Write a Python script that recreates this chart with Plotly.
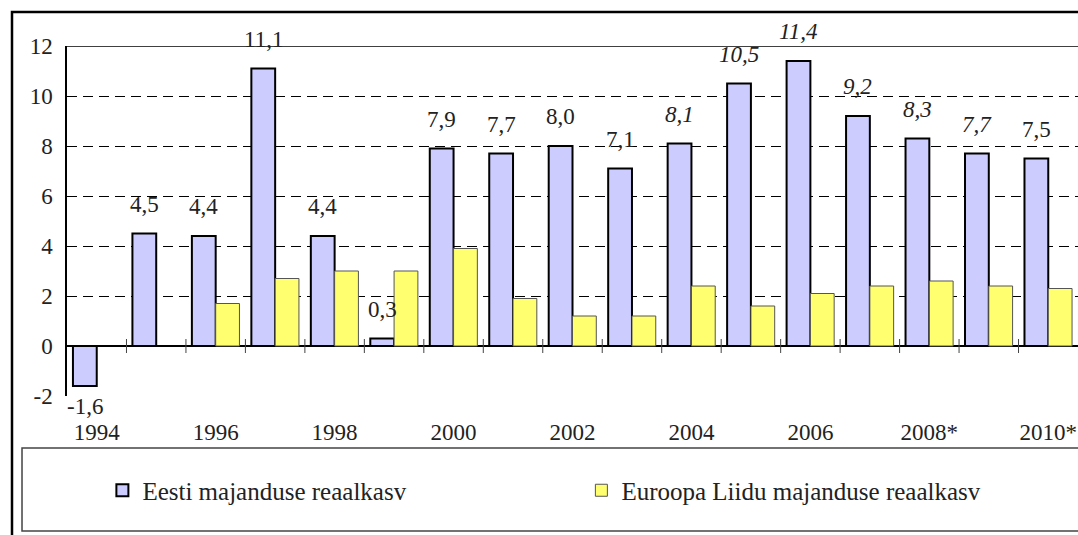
import plotly.graph_objects as go

years = list(range(1994, 2011))
eesti = [-1.6, 4.5, 4.4, 11.1, 4.4, 0.3, 7.9, 7.7, 8.0, 7.1, 8.1, 10.5, 11.4, 9.2, 8.3, 7.7, 7.5]
el = [None, None, 1.7, 2.7, 3.0, 3.0, 3.9, 1.9, 1.2, 1.2, 2.4, 1.6, 2.1, 2.4, 2.6, 2.4, 2.3]
tick_years = years[::2]
tick_labels = ['1994', '1996', '1998', '2000', '2002', '2004', '2006', '2008*', '2010*']
y_ticks = [-2, 0, 2, 4, 6, 8, 10, 12]
y_labels = ['-2', '0', '2', '4', '6', '8', '10', '12']
italic_years = range(2004, 2010)

FONT = 'Liberation Serif, Times New Roman, serif'

fig = go.Figure()
fig.add_bar(x=years, y=eesti, name='Eesti majanduse reaalkasv',
            marker=dict(color='#CCCCFF', line=dict(color='black', width=2)))
fig.add_bar(x=years, y=el, name='Euroopa Liidu majanduse reaalkasv',
            marker=dict(color='#FFFF70', line=dict(color='#555555', width=1)))

# value labels above the Estonian bars
for yr, v in zip(years, eesti):
    txt = f'{v:.1f}'.replace('.', ',')
    if yr in italic_years:
        txt = f'<i>{txt}</i>'
    fig.add_annotation(x=yr - 0.2, y=v, text=txt, showarrow=False,
                       yanchor='bottom' if v >= 0 else 'top',
                       yshift=15 if v >= 0 else -6,
                       font=dict(family=FONT, size=23, color='#222222'))

# small crossing ticks on the zero line between categories
for yr in years[:-1]:
    fig.add_shape(type='line', xref='x', yref='y', x0=yr + 0.5, x1=yr + 0.5,
                  ysizemode='pixel', yanchor=0, y0=-7, y1=7,
                  line=dict(color='#444444', width=1))

# solid top line, legend box, outer frame
fig.add_shape(type='line', xref='paper', yref='y', x0=0, x1=1, y0=12, y1=12,
              line=dict(color='black', width=1.5))
fig.add_shape(type='rect', xref='paper', yref='paper', x0=-0.0445, x1=1.01,
              y0=-0.386, y1=-0.1486, line=dict(color='#444444', width=1.5))
fig.add_shape(type='rect', xref='paper', yref='paper', x0=-0.0544, x1=1.01,
              y0=-0.42, y1=1.097, line=dict(color='black', width=2.5))

fig.update_layout(
    width=1078, height=535,
    margin=dict(l=67, r=0, t=46, b=139),
    paper_bgcolor='white', plot_bgcolor='white',
    barmode='group', bargap=0.2, bargroupgap=0,
    font=dict(family=FONT, size=23, color='#222222'),
    showlegend=True,
    legend=dict(orientation='h', x=0.035, y=-0.27, xanchor='left', yanchor='middle',
                entrywidth=434, font=dict(family=FONT, size=25, color='#222222'),
                bgcolor='rgba(0,0,0,0)'),
)
fig.update_xaxes(range=[1993.5, 2010.5], tickvals=tick_years, ticktext=tick_labels,
                 showgrid=False, showline=False, ticks='', ticklabelstandoff=20,
                 zeroline=False)
fig.update_yaxes(range=[-2, 12], tickvals=y_ticks, ticktext=y_labels,
                 showgrid=True, gridcolor='black',
                 griddash='10px,6px', gridwidth=1, zeroline=True, zerolinecolor='black',
                 zerolinewidth=1.5, showline=True, linecolor='black', linewidth=1.5,
                 ticks='', ticklabelstandoff=8)

# page body margin would push the chart off by 8px
fig.write_html('out.html', config={'displayModeBar': False},
               post_script="document.body.style.margin='0';")
